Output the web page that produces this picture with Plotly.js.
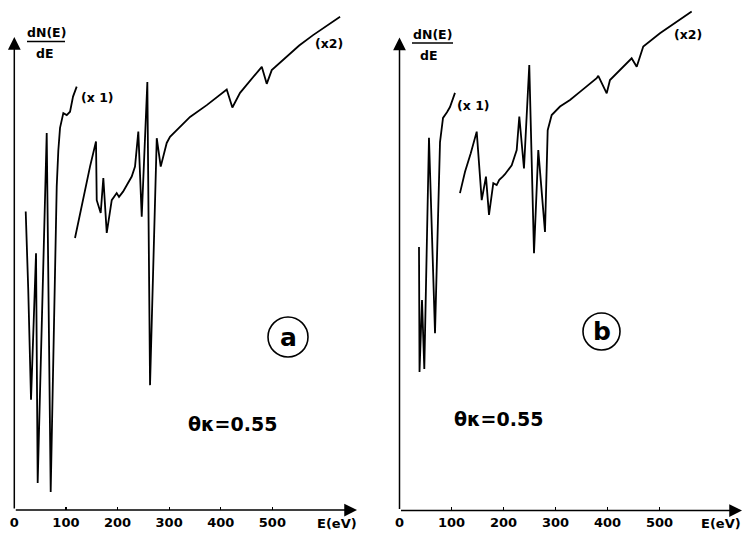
<!DOCTYPE html>
<html>
<head>
<meta charset="utf-8">
<script src="https://cdn.plot.ly/plotly-3.0.1.min.js"></script>
<style>html,body{margin:0;padding:0;background:#fff;}#chart{width:744px;height:533px;}</style>
</head>
<body>
<div id="chart"></div>
<script>
// ---- Data (E in eV, dN/dE in arbitrary units) ----
// Panel (a), low energy part (x1)
var aLowE = [22.1, 27.0, 32.4, 42.1, 45.3, 62.8, 70.5, 78.9, 82.2, 85.3, 88.6, 95.0, 101.6, 108.0, 113.8, 120.9];
var aLowY = [63.1, 46.6, 23.3, 54.3, 5.7, 79.7, 3.8, 48.0, 68.4, 76.0, 80.8, 83.9, 83.5, 84.2, 87.4, 89.5];
// Panel (a), high energy part (x2)
var aHighE = [117.6, 133.7, 146.7, 158.3, 159.7, 167.4, 172.5, 179.1, 188.8, 198.4, 202.9, 210.7, 220.3, 227.5, 233.9, 240.3, 246.9, 257.8, 263.0, 276.0, 283.7, 295.3, 301.7, 315.0, 321.1, 340.5, 372.9, 411.6, 422.5, 437.4, 479.5, 489.1, 498.8, 527.9, 552.0, 578.9, 631.2];
var aHighY = [57.5, 66.2, 72.6, 77.9, 65.5, 62.8, 70.2, 58.6, 65.5, 67.0, 66.2, 67.3, 69.1, 70.5, 72.6, 80.0, 62.0, 90.5, 26.4, 78.6, 72.6, 77.6, 78.9, 80.4, 81.0, 83.1, 85.6, 88.9, 85.1, 88.2, 93.7, 90.1, 93.0, 95.8, 98.2, 100.4, 104.3];
// Panel (b), low energy part (x1)
var bLowE = [37.5, 38.5, 43.3, 47.7, 56.7, 68.3, 77.9, 83.7, 91.3, 97.1, 106.7];
var bLowY = [55.7, 29.3, 44.5, 29.9, 78.8, 37.5, 77.9, 83.0, 84.2, 85.3, 88.3];
// Panel (b), high energy part (x2)
var bHighE = [116.3, 126.0, 136.9, 148.5, 158.1, 166.3, 172.1, 180.4, 186.9, 191.9, 198.5, 202.9, 215.8, 225.4, 230.4, 239.4, 249.6, 258.7, 266.9, 279.8, 285.0, 292.7, 308.7, 327.9, 347.0, 379.2, 382.3, 398.5, 404.8, 446.5, 456.2, 468.8, 500.9, 561.9];
var bHighY = [67.1, 71.6, 75.5, 80.1, 65.6, 70.6, 62.5, 69.2, 68.8, 69.9, 70.6, 71.1, 73.0, 76.2, 83.3, 72.3, 94.2, 54.4, 76.2, 58.9, 80.4, 83.6, 85.4, 86.8, 88.5, 91.4, 91.9, 88.2, 91.0, 95.6, 93.8, 98.1, 100.9, 105.5];
// Tick labels
var tickVals = [0, 100, 200, 300, 400, 500];
var tickText = ["0", "100", "200", "300", "400", "500"];

// ---- Layout helpers ----
var W = 744, H = 533;
function px(x){ return x / W; }
function py(y){ return 1 - y / H; }
var FONT = "DejaVu Sans, Liberation Sans, Arial, sans-serif";
var lineStyle = {color: "#000", width: 1.8};

var traces = [
  {x: aLowE, y: aLowY, mode: "lines", line: lineStyle, xaxis: "x", yaxis: "y", hoverinfo: "skip"},
  {x: aHighE, y: aHighY, mode: "lines", line: lineStyle, xaxis: "x", yaxis: "y", hoverinfo: "skip"},
  {x: bLowE, y: bLowY, mode: "lines", line: lineStyle, xaxis: "x2", yaxis: "y2", hoverinfo: "skip"},
  {x: bHighE, y: bHighY, mode: "lines", line: lineStyle, xaxis: "x2", yaxis: "y2", hoverinfo: "skip"}
];

var xMaxA = 664, xMaxB = 658.7, yTop = 100;
function xAxisDef(dom, xmax){
  return {
    domain: dom, range: [0, xmax], showgrid: false, zeroline: false, showline: false,
    ticks: "inside", ticklen: 3, tickwidth: 1.2, tickcolor: "#000",
    tickvals: tickVals, ticktext: tickText,
    tickfont: {family: FONT, size: 13, color: "#000", weight: "bold"},
    ticklabelstandoff: 3, fixedrange: true
  };
}
function yAxisDef(dom, ymax, anchor){
  return {domain: dom, range: [0, ymax], visible: false, fixedrange: true, anchor: anchor};
}

function arrow(xr, yr, x, y, ax, ay){
  return {xref: xr, yref: yr, axref: xr, ayref: yr, x: x, y: y, ax: ax, ay: ay,
    text: "", showarrow: true, arrowhead: 2, arrowsize: 1.7, arrowwidth: 1.5, arrowcolor: "#000", standoff: 0, startstandoff: 0};
}
function label(x, y, text, size, anchor){
  return {xref: "paper", yref: "paper", x: px(x), y: py(y), text: text, showarrow: false,
    xanchor: anchor || "center", yanchor: "middle",
    font: {family: FONT, size: size, color: "#000", weight: "bold"}};
}

var layout = {
  width: W, height: H,
  margin: {l: 0, r: 0, t: 0, b: 0},
  paper_bgcolor: "#fff", plot_bgcolor: "rgba(0,0,0,0)",
  showlegend: false,
  xaxis: xAxisDef([px(14.3), px(357)], xMaxA),
  yaxis: yAxisDef([1 - 510 / H, 1], 510 / 4.73, "x"),
  xaxis2: xAxisDef([px(399.5), px(742)], xMaxB),
  yaxis2: yAxisDef([1 - 510.5 / H, 1], 510.5 / 4.73, "x2"),
  shapes: [
    {type: "line", xref: "paper", yref: "paper", x0: px(27), x1: px(65), y0: py(41.5), y1: py(41.5), line: {color: "#000", width: 1.6}},
    {type: "line", xref: "paper", yref: "paper", x0: px(412), x1: px(453), y0: py(43), y1: py(43), line: {color: "#000", width: 1.6}},
    {type: "circle", xref: "paper", yref: "paper", x0: px(268), x1: px(308), y0: py(357), y1: py(317), line: {color: "#000", width: 1.6}},
    {type: "circle", xref: "paper", yref: "paper", x0: px(583), x1: px(620), y0: py(350), y1: py(313), line: {color: "#000", width: 1.6}}
  ],
  annotations: [
    arrow("x", "y", xMaxA, 0, 0, 0),
    arrow("x", "y", 0, yTop, 0, 0),
    arrow("x2", "y2", xMaxB, 0, 0, 0),
    arrow("x2", "y2", 0, yTop, 0, 0),
    label(46, 33, "dN(E)", 12.5),
    label(45, 53, "dE", 12.5),
    label(432, 34, "dN(E)", 12.5),
    label(429, 55, "dE", 12.5),
    label(97, 97, "(x 1)", 12.5),
    label(329, 43, "(x2)", 12.5),
    label(473, 105, "(x 1)", 12.5),
    label(688, 35, "(x2)", 12.5),
    label(288.5, 337, "a", 25),
    label(601.5, 331.5, "b", 25),
    label(232, 424, "θκ=0.55", 19),
    label(499, 419, "θκ=0.55", 19),
    label(337, 523, "E(eV)", 13),
    label(743, 523, "E(eV)", 13, "right")
  ]
};

Plotly.newPlot("chart", traces, layout, {staticPlot: true, displayModeBar: false});
</script>
</body>
</html>
